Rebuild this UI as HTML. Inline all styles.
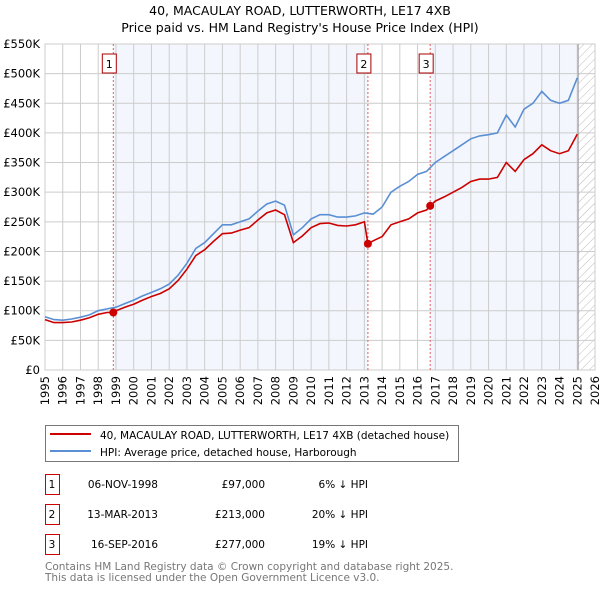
<!DOCTYPE html>
<html><head><meta charset="utf-8"><style>
body{margin:0;background:#fff;width:600px;height:590px;overflow:hidden;font-family:"DejaVu Sans","Liberation Sans",sans-serif}
svg text{font-family:"DejaVu Sans","Liberation Sans",sans-serif}
</style></head><body>
<svg id="c" width="600" height="590" xmlns="http://www.w3.org/2000/svg">
<defs><pattern id="hatch" width="6" height="6" patternUnits="userSpaceOnUse" patternTransform="rotate(45)"><line x1="0" y1="0" x2="0" y2="6" stroke="#bbb" stroke-width="1"/></pattern></defs>
<text x="300" y="15" text-anchor="middle" font-size="12.5">40, MACAULAY ROAD, LUTTERWORTH, LE17 4XB</text>
<text x="300" y="32" text-anchor="middle" font-size="12.5">Price paid vs. HM Land Registry's House Price Index (HPI)</text>
<g id="plot"></g>
<g>
<rect x="45.5" y="425.5" width="413" height="36" fill="#fff" stroke="#777"/>
<line x1="50" y1="434" x2="91" y2="434" stroke="#cc0000" stroke-width="2"/>
<text x="100" y="439" font-size="10.5">40, MACAULAY ROAD, LUTTERWORTH, LE17 4XB (detached house)</text>
<line x1="50" y1="451" x2="91" y2="451" stroke="#5b8fd4" stroke-width="2"/>
<text x="100" y="456" font-size="10.5">HPI: Average price, detached house, Harborough</text>
</g>
<g id="tbl" font-size="10.5"></g>
<text x="45" y="570" font-size="10.5" fill="#777">Contains HM Land Registry data © Crown copyright and database right 2025.</text>
<text x="45" y="581" font-size="10.5" fill="#777">This data is licensed under the Open Government Licence v3.0.</text>
</svg>
<script>
const hpiYears=[1995,1995.5,1996,1996.5,1997,1997.5,1998,1998.5,1999,1999.5,2000,2000.5,2001,2001.5,2002,2002.5,2003,2003.5,2004,2004.5,2005,2005.5,2006,2006.5,2007,2007.5,2008,2008.5,2009,2009.5,2010,2010.5,2011,2011.5,2012,2012.5,2013,2013.5,2014,2014.5,2015,2015.5,2016,2016.5,2017,2017.5,2018,2018.5,2019,2019.5,2020,2020.5,2021,2021.5,2022,2022.5,2023,2023.5,2024,2024.5,2025];
const hpiValues=[90,85,84,86,89,93,100,103,106,112,118,125,131,137,145,160,180,205,215,230,245,245,250,255,268,280,285,278,228,240,255,262,262,258,258,260,265,263,275,300,310,318,330,335,350,360,370,380,390,395,397,400,430,410,440,450,470,455,450,455,493];
const ppYears=[1995,1995.5,1996,1996.5,1997,1997.5,1998,1998.5,1998.85,1999,1999.5,2000,2000.5,2001,2001.5,2002,2002.5,2003,2003.5,2004,2004.5,2005,2005.5,2006,2006.5,2007,2007.5,2008,2008.5,2009,2009.5,2010,2010.5,2011,2011.5,2012,2012.5,2013,2013.2,2013.5,2014,2014.5,2015,2015.5,2016,2016.5,2016.71,2017,2017.5,2018,2018.5,2019,2019.5,2020,2020.5,2021,2021.5,2022,2022.5,2023,2023.5,2024,2024.5,2025];
const ppValues=[85,80,80,81,84,88,94,97,97,100,106,111,118,124,129,137,151,170,193,203,217,230,231,236,240,253,265,270,262,215,226,240,247,248,244,243,245,250,213,218,225,245,250,255,265,270,277,285,292,300,308,318,322,322,325,350,335,355,365,380,370,365,370,398];
const saleYears=[1998.85,2013.2,2016.71];
const saleValues=[97,213,277];
const saleLabels=["1","2","3"];
const saleDates=["06-NOV-1998","13-MAR-2013","16-SEP-2016"];
const salePrices=["£97,000","£213,000","£277,000"];
const saleDiffs=["6% ↓ HPI","20% ↓ HPI","19% ↓ HPI"];
const yTicks=[0,50,100,150,200,250,300,350,400,450,500,550];
const yTickLabels=["£0","£50K","£100K","£150K","£200K","£250K","£300K","£350K","£400K","£450K","£500K","£550K"];
const xTicks=[1995,1996,1997,1998,1999,2000,2001,2002,2003,2004,2005,2006,2007,2008,2009,2010,2011,2012,2013,2014,2015,2016,2017,2018,2019,2020,2021,2022,2023,2024,2025,2026];

const NS="http://www.w3.org/2000/svg";
const L=45,R=595,T=44,B=370,x0=1995,x1=2026,ymax=550;
const X=v=>L+(v-x0)/(x1-x0)*(R-L);
const Y=v=>B-v/ymax*(B-T);
const plot=document.getElementById('plot');
function mk(tag,attrs,parent){const e=document.createElementNS(NS,tag);for(const k in attrs)e.setAttribute(k,attrs[k]);(parent||plot).appendChild(e);return e;}
const s1=mk('rect',{x:X(saleYears[0]),y:T,width:X(saleYears[1])-X(saleYears[0]),height:B-T,fill:'#eef3fc',opacity:0.7});


const s2=mk('rect',{x:X(saleYears[2]),y:T,width:X(2025.05)-X(saleYears[2]),height:B-T,fill:'#eef3fc',opacity:0.7});


const h=mk('rect',{x:X(2025.05),y:T,width:R-X(2025.05),height:B-T,fill:'url(#hatch)'});


yTicks.forEach((v,i)=>{
 const g=mk('line',{x1:L,x2:R,y1:Y(v),y2:Y(v),stroke:'#cccccc'});
 
 
 const t=mk('text',{x:L-5,y:Y(v)+4,'text-anchor':'end','font-size':'11.5'});t.textContent=yTickLabels[i];
 
 
});
xTicks.forEach(v=>{
 const g=mk('line',{x1:X(v),x2:X(v),y1:T,y2:B,stroke:'#cccccc'});
 
 
 const t=mk('text',{x:0,y:0,'text-anchor':'end','font-size':'11.5',transform:`translate(${X(v)+4},${B+6}) rotate(-90)`});t.textContent=v;
 
 
});
const bd=mk('rect',{x:L,y:T,width:R-L,height:B-T,fill:'none',stroke:'#cccccc'});


const nowl=mk('line',{x1:X(2025.05),x2:X(2025.05),y1:T,y2:B,stroke:'#999'});


saleYears.forEach((v,i)=>{
 const l=mk('line',{x1:X(v),x2:X(v),y1:T,y2:B,stroke:'#e06060','stroke-dasharray':'2,2'});
 
 
 const bx=mk('rect',{x:X(v)-11,y:T+10,width:14,height:19,fill:'#fff',stroke:'#aa0000'});
 
 
 const t=mk('text',{x:X(v)-4,y:T+24,'text-anchor':'middle','font-size':'11'});t.textContent=saleLabels[i];
 
 
});
const path=(xs,ys)=>xs.map((v,i)=>(i?'L':'M')+X(v).toFixed(1)+','+Y(ys[i]).toFixed(1)).join('');
const hp=mk('path',{d:path(hpiYears,hpiValues),fill:'none',stroke:'#5b8fd4','stroke-width':1.6});


const pp=mk('path',{d:path(ppYears,ppValues),fill:'none',stroke:'#cc0000','stroke-width':1.6});


saleYears.forEach((v,i)=>{
 const c=mk('circle',{cx:X(v),cy:Y(saleValues[i]),r:4,fill:'#cc0000'});
 
 
});
const tbl=document.getElementById('tbl');
saleLabels.forEach((s,i)=>{
 const y=482+i*30;
 const r=mk('rect',{x:45.5,y:y-7.5,width:14,height:20,fill:'#fff',stroke:'#cc0000'},tbl);
 
 
 const cells=[[52,'middle',s],[158,'end',saleDates[i]],[265,'end',salePrices[i]],[368,'end',saleDiffs[i]]];
 cells.forEach(c=>{const t=mk('text',{x:c[0],y:y+6,'text-anchor':c[1]},tbl);t.textContent=c[2];
  
  });
});
</script>
</body></html>
